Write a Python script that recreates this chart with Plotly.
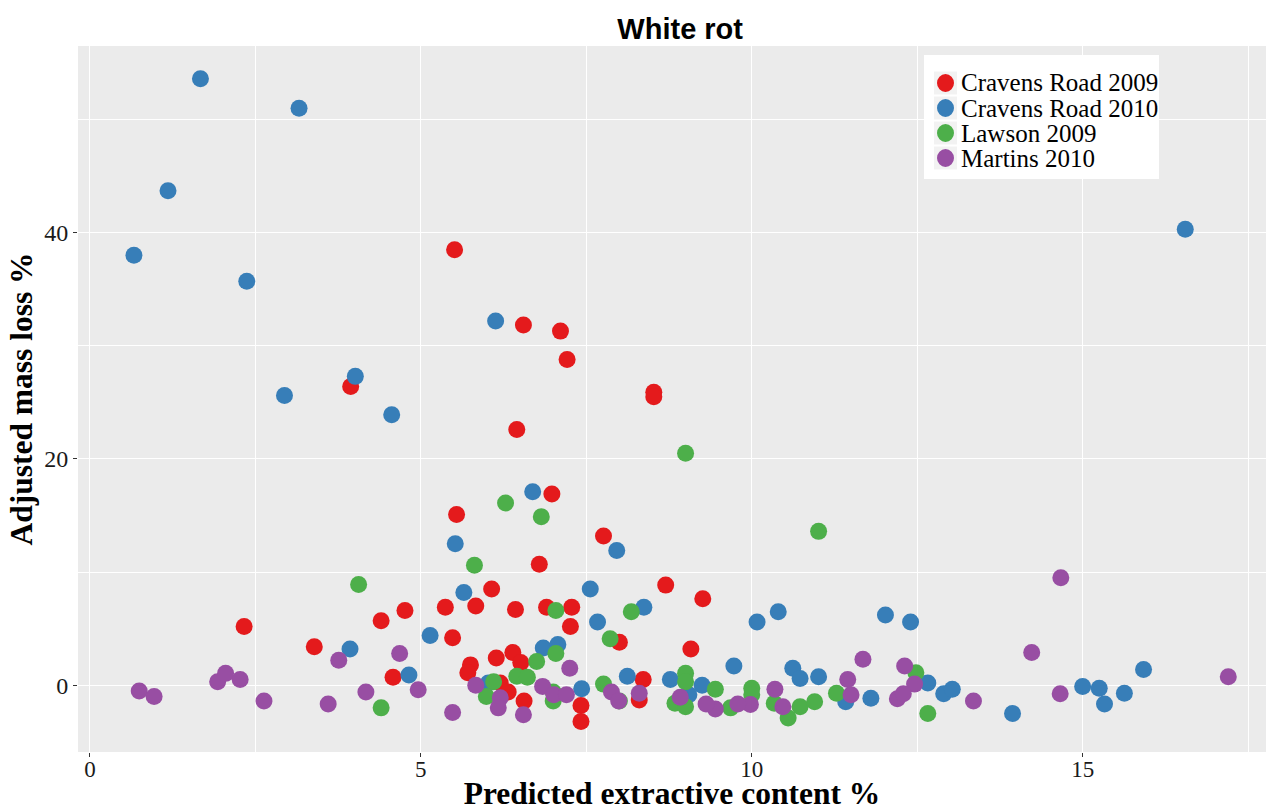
import plotly.graph_objects as go

# ---- data ----
series_names = ["Cravens Road 2009", "Cravens Road 2010", "Lawson 2009", "Martins 2010"]
series_colors = ["#E41A1C", "#377EB8", "#4DAF4A", "#984EA3"]

cr2009_x = [5.51, 6.55, 7.11, 7.21, 3.94, 8.52, 8.52, 6.45, 6.98, 5.54, 7.76, 6.79, 8.70, 9.26,
            2.33, 6.07, 5.37, 5.83, 4.76, 4.40, 6.43, 6.90, 7.28, 7.26, 3.39, 5.48, 8.00, 9.08,
            6.14, 6.39, 6.51, 5.75, 5.71, 4.58, 6.20, 6.32, 6.56, 7.42, 7.42, 8.36, 8.30]
cr2009_y = [38.5, 31.85, 31.3, 28.8, 26.4, 25.9, 25.5, 22.6, 16.9, 15.1, 13.2, 10.7, 8.85, 7.65,
            5.2, 8.5, 6.9, 7.0, 6.6, 5.7, 6.7, 6.9, 6.9, 5.2, 3.4, 4.2, 3.8, 3.2,
            2.4, 2.9, 2.0, 1.8, 1.1, 0.7, 0.2, -0.6, -1.4, -1.8, -3.2, 0.5, -1.3]

cr2010_x = [1.67, 3.16, 1.18, 0.665, 2.37, 6.13, 4.01, 2.94, 16.55, 4.56, 6.69, 5.52, 7.96, 5.65,
            7.56, 7.67, 5.14, 3.93, 4.82, 6.02, 6.85, 7.07, 7.43, 8.12, 8.37, 10.08, 10.40, 12.02,
            12.40, 9.73, 8.77, 9.25, 9.05, 10.62, 10.73, 11.01, 11.42, 11.80, 12.66, 12.90, 13.03,
            13.94, 15.00, 15.25, 15.33, 15.63, 15.92]
cr2010_y = [53.6, 51.0, 43.7, 38.0, 35.7, 32.2, 27.3, 25.6, 40.3, 23.9, 17.1, 12.5, 11.9, 8.2,
            8.5, 5.6, 4.4, 3.2, 0.9, 0.2, 3.3, 3.6, -0.3, 0.8, 6.9, 5.6, 6.5, 6.2,
            5.6, 1.7, 0.5, 0.0, -0.85, 1.5, 0.6, 0.76, -1.45, -1.15, 0.2, -0.76, -0.35,
            -2.5, -0.12, -0.26, -1.65, -0.7, 1.4]

lawson_x = [4.06, 6.28, 6.82, 5.81, 7.04, 7.86, 8.18, 7.04, 6.75, 6.45, 6.61, 6.10, 5.99, 4.40,
            7.00, 7.00, 7.76, 8.00, 9.00, 11.01, 9.00, 9.00, 8.84, 9.00, 9.45, 9.68, 10.00, 10.00,
            10.34, 10.55, 10.73, 10.95, 11.28, 12.48, 12.66]
lawson_y = [8.9, 16.1, 14.9, 10.6, 6.6, 4.1, 6.5, 2.8, 2.1, 0.8, 0.7, 0.3, -1.0, -2.0,
            -0.6, -1.4, 0.1, -1.4, 20.5, 13.6, 1.06, 0.3, -1.6, -1.9, -0.35, -2.0, -0.26, -0.85,
            -1.6, -2.9, -1.9, -1.45, -0.7, 1.1, -2.5]

martins_x = [0.745, 0.97, 1.93, 2.05, 2.27, 2.63, 3.60, 3.76, 4.17, 4.68, 4.96, 5.48, 5.83, 6.20,
             6.17, 6.55, 6.84, 7.01, 7.20, 7.25, 7.88, 7.99, 8.30, 14.67, 14.23, 17.20, 14.66,
             13.35, 11.68, 11.45, 11.50, 12.31, 12.46, 12.20, 12.29, 10.35, 10.47, 9.98, 9.79,
             9.45, 9.31, 8.92]
martins_y = [-0.5, -1.0, 0.3, 1.05, 0.5, -1.4, -1.65, 2.2, -0.6, 2.8, -0.4, -2.4, 0.0, -1.1,
             -2.0, -2.6, -0.1, -0.85, -0.85, 1.5, -0.6, -1.4, -0.7, 9.5, 2.9, 0.76, -0.76,
             -1.4, 2.3, 0.5, -0.85, 1.7, 0.1, -1.2, -0.76, -0.35, -1.9, -1.7, -1.65,
             -2.1, -1.65, -1.06]

x_ticks = [0, 5, 10, 15]
y_ticks = [0, 20, 40]

all_x = [cr2009_x, cr2010_x, lawson_x, martins_x]
all_y = [cr2009_y, cr2010_y, lawson_y, martins_y]

W, H = 1269, 811
ML, MR, MT, MB = 78, 3, 46, 59
PW, PH = W - ML - MR, H - MT - MB


def px(xp):
    return (xp - ML) / PW


def py(yp):
    return (H - MB - yp) / PH


fig = go.Figure()
for name, color, xs, ys in zip(series_names, series_colors, all_x, all_y):
    fig.add_trace(go.Scatter(
        x=xs, y=ys, mode="markers", name=name, showlegend=False,
        marker=dict(color=color, size=17, line=dict(width=0)),
    ))

serif = "Liberation Serif, Times New Roman, serif"

# ---- legend (drawn inside the panel, ggplot style) ----
shapes = [dict(type="rect", xref="paper", yref="paper", x0=px(924), x1=px(1159),
               y0=py(179), y1=py(55), fillcolor="white", line=dict(width=0), layer="above")]
annotations = []
row_centers = [83, 108, 133, 158]
for name, color, yc in zip(series_names, series_colors, row_centers):
    shapes.append(dict(type="rect", xref="paper", yref="paper", x0=px(934), x1=px(957),
                       y0=py(yc + 11.5), y1=py(yc - 11.5), fillcolor="#F2F2F2",
                       line=dict(width=0), layer="above"))
    shapes.append(dict(type="circle", xref="paper", yref="paper",
                       xsizemode="pixel", ysizemode="pixel",
                       xanchor=px(945.5), yanchor=py(yc), x0=-8.5, x1=8.5, y0=-9, y1=9,
                       fillcolor=color, line=dict(width=0), layer="above"))
    annotations.append(dict(text=name, xref="paper", yref="paper", x=px(959), y=py(yc),
                            xanchor="left", yanchor="middle", showarrow=False,
                            font=dict(family=serif, size=25, color="black")))

fig.update_layout(
    width=W, height=H,
    margin=dict(l=ML, r=MR, t=MT, b=MB, autoexpand=False),
    paper_bgcolor="white",
    plot_bgcolor="#EBEBEB",
    title=dict(text="<b>White rot</b>", x=0.536, xanchor="center", y=0.965, yanchor="middle",
               font=dict(family="Liberation Sans, Arial, sans-serif", size=29, color="black")),
    showlegend=False,
    shapes=shapes,
    annotations=annotations,
    xaxis=dict(
        range=[-0.18, 17.77], tickvals=x_ticks, ticktext=[str(v) for v in x_ticks],
        showgrid=True, gridcolor="white", gridwidth=1.4, zeroline=False, showline=False,
        ticks="outside", ticklen=4, tickcolor="#333333", tickwidth=1,
        ticklabelstandoff=-8, automargin=False,
        tickfont=dict(family=serif, size=23, color="#1a1a1a"),
        minor=dict(tickvals=[2.5, 7.5, 12.5, 17.5], showgrid=True, gridcolor="white", gridwidth=0.6, ticks=""),
        title=dict(text="<b>Predicted extractive content %</b>", standoff=10,
                   font=dict(family=serif, size=31.5, color="black")),
    ),
    yaxis=dict(
        range=[-5.9, 56.5], tickvals=y_ticks, ticktext=[str(v) for v in y_ticks],
        showgrid=True, gridcolor="white", gridwidth=1.4, zeroline=False, showline=False,
        ticks="outside", ticklen=4, tickcolor="#333333", tickwidth=1,
        automargin=False,
        tickfont=dict(family=serif, size=24, color="#1a1a1a"),
        minor=dict(tickvals=[10, 30, 50], showgrid=True, gridcolor="white", gridwidth=0.6, ticks=""),
        title=dict(text="<b>Adjusted mass loss %</b>", standoff=2,
                   font=dict(family=serif, size=31.5, color="black")),
    ),
)

fig.write_html("out.html")
